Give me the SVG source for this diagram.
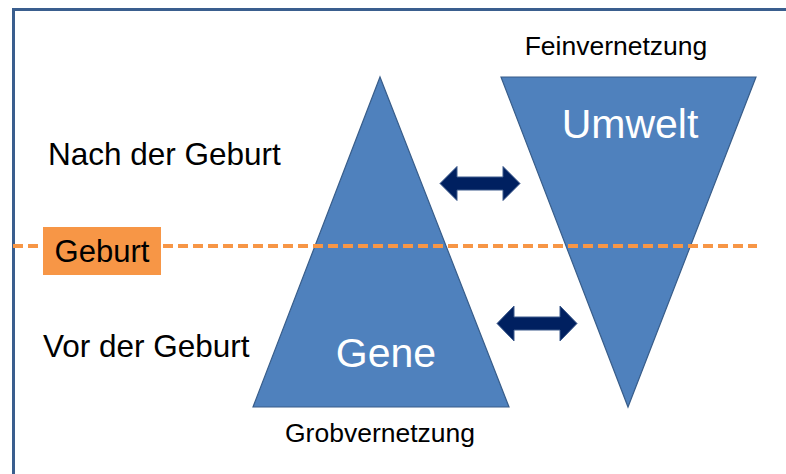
<svg xmlns="http://www.w3.org/2000/svg" width="786" height="474" viewBox="0 0 786 474">
  <style>
    .lbl { font-family: "Liberation Sans", Arial, sans-serif; fill: #000000; }
    .inner { font-family: "Liberation Sans", Arial, sans-serif; fill: #ffffff; text-anchor: middle; }
    .tri { fill: #4f81bd; stroke: #385d8a; stroke-width: 1.2; stroke-linejoin: miter; }
    .arrow { fill: #002060; stroke: #3c5a8c; stroke-width: 1; stroke-linejoin: miter; }
  </style>
  <rect width="786" height="474" fill="#ffffff"/>
  <!-- frame -->
  <path d="M13.5 474 V9.5 H786" fill="none" stroke="#3a5e8e" stroke-width="3"/>

  <g id="gene">
    <polygon class="tri" points="380,77 509,407 253,407"/>
    <text class="inner" x="386" y="367" font-size="41">Gene</text>
  </g>

  <g id="umwelt">
    <polygon class="tri" points="501,77 756,77 628,407"/>
    <text class="inner" x="630" y="138" font-size="41">Umwelt</text>
  </g>

  <!-- birth line, drawn across both triangles -->
  <line x1="13" y1="246" x2="757" y2="246" stroke="#f79646" stroke-width="4" stroke-dasharray="10 5"/>

  <g id="geburt">
    <rect x="43" y="227" width="118" height="48" fill="#f79646"/>
    <text class="lbl" x="102" y="262" font-size="31" text-anchor="middle">Geburt</text>
  </g>

  <g id="labels">
    <text class="lbl" x="48" y="165" font-size="31.5">Nach der Geburt</text>
    <text class="lbl" x="43" y="357" font-size="31.5">Vor der Geburt</text>
    <text class="lbl" x="616" y="55" font-size="26.5" text-anchor="middle">Feinvernetzung</text>
    <text class="lbl" x="380" y="442" font-size="26.5" text-anchor="middle">Grobvernetzung</text>
  </g>

  <g id="connectors">
    <polygon class="arrow" points="440,183.5 457,166.5 457,177 503,177 503,166.5 520,183.5 503,200.5 503,190 457,190 457,200.5"/>
    <polygon class="arrow" points="497,323.5 514,306 514,317 560,317 560,306 577,323.5 560,341 560,330 514,330 514,341"/>
  </g>
</svg>
